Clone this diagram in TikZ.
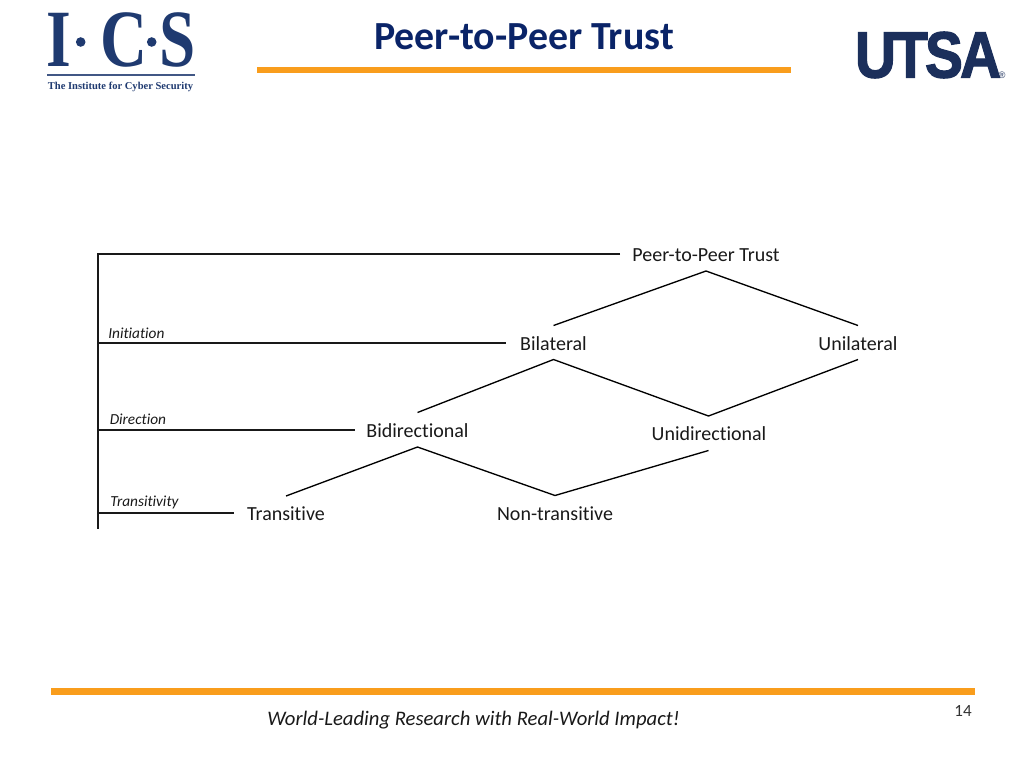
\documentclass[tikz,border=0pt]{standalone}
\usepackage{fontspec}
\setmainfont{Carlito}[Ligatures=NoCommon]
\newfontfamily\logoserif{Liberation Serif}
\newfontfamily\logosans{Liberation Sans}
\definecolor{logoblue}{HTML}{1F3A70}
\definecolor{utsablue}{HTML}{1B2F5B}
\definecolor{titleblue}{HTML}{0A2468}
\definecolor{barorange}{HTML}{F99D1C}
\tikzset{
  lbl/.style={inner sep=0pt,font=\fontsize{15}{18}\selectfont,text=black!90},
  lvl/.style={inner sep=0pt,anchor=west,font=\fontsize{11.5}{13}\selectfont\itshape,text=black!90},
  edge/.style={draw=black,line width=1pt},
  rail/.style={draw=black!90,line width=1.5pt},
  bar/.style={fill=barorange,draw=none},
  logoletter/.style={inner sep=0pt,anchor=base,text=logoblue,font=\fontsize{61}{61}\selectfont\logoserif\bfseries},
}
\begin{document}
\begin{tikzpicture}[x=0.75pt,y=-0.75pt]
\useasboundingbox (0,0) rectangle (1024,768);
% header
\node[inner sep=0pt,text=titleblue,font=\fontsize{29.9}{34}\selectfont\bfseries] (title) at (524,36.5) {Peer-to-Peer Trust};
\fill[bar] (257,67) rectangle (790.5,73);
\fill[bar] (51,688) rectangle (975,695);
% ICS logo
\node[logoletter] (logoI) at (59,66.5) {\scalebox{0.78}[1]{I}};
\node[logoletter] (logoC) at (124,66.5) {\scalebox{0.8}[1]{C}};
\node[logoletter] (logoS) at (177.5,66.5) {\scalebox{0.8}[1]{S}};
\fill[logoblue] (80.7,42) circle (4.8) (151.7,42) circle (4.8);
\fill[logoblue!85] (47,74) rectangle (195,76.3);
\node[inner sep=0pt,text=logoblue,font=\fontsize{7.9}{10}\selectfont\logoserif\bfseries] (logotag) at (120.5,86.5) {The Institute for Cyber Security};
% UTSA logo
\node[inner sep=0pt,text=utsablue,font=\fontsize{49}{50}\selectfont\logosans\bfseries] (utsa) at (928,55) {\scalebox{0.87}[1]{\addfontfeatures{LetterSpace=-5,FakeBold=2}UTSA}};
\node[inner sep=0pt,text=utsablue,font=\fontsize{7}{8}\selectfont\logosans] (reg) at (1002,75.5) {®};
% tree nodes
\node[lbl] (root) at (706,255) {Peer-to-Peer Trust};
\node[lbl] (bil) at (553.5,343.5) {Bilateral};
\node[lbl] (uni) at (858,343.5) {Unilateral};
\node[lbl] (bid) at (417.5,430.5) {Bidirectional};
\node[lbl] (udi) at (709,433.5) {Unidirectional};
\node[lbl] (tra) at (286,513.5) {Transitive};
\node[lbl] (non) at (555,513.5) {Non-transitive};
% level labels
\node[lvl] (linit) at (108,333) {Initiation};
\node[lvl] (ldir) at (109.5,419.5) {Direction};
\node[lvl] (ltra) at (110,502) {Transitivity};
% connector ends
\coordinate (rootb) at (706,271);
\coordinate (bilt) at (553.5,325.5);
\coordinate (unit) at (858,325.5);
\coordinate (bilb) at (553.5,359.5);
\coordinate (unib) at (858,359.5);
\coordinate (bidt) at (417.5,412.5);
\coordinate (udit) at (708.5,416);
\coordinate (bidb) at (417.5,447);
\coordinate (udib) at (708.5,450.5);
\coordinate (trat) at (286,496);
\coordinate (nont) at (555,495.5);
\draw[edge] (bilt) -- (rootb) -- (unit);
\draw[edge] (bidt) -- (bilb) -- (udit) -- (unib);
\draw[edge] (trat) -- (bidb) -- (nont) -- (udib);
% level rails
\coordinate (railtop) at (98,254.2);
\coordinate (railbot) at (98,529);
\coordinate (rail1) at (98,342.7);
\coordinate (rail2) at (98,429.7);
\coordinate (rail3) at (98,512.7);
\coordinate (rootw) at (620,254.2);
\coordinate (bilw) at (506,342.7);
\coordinate (bidw) at (355,429.7);
\coordinate (traw) at (234,512.7);
\draw[rail] (rootw) -- (railtop) -- (railbot);
\draw[rail] (rail1) -- (bilw);
\draw[rail] (rail2) -- (bidw);
\draw[rail] (rail3) -- (traw);
% footer
\node[inner sep=0pt,font=\fontsize{15.5}{18}\selectfont\itshape,text=black!90] (motto) at (473.5,720) {World-Leading Research with Real-World Impact!};
\node[inner sep=0pt,font=\fontsize{12.8}{14}\selectfont,text=black!80] (pageno) at (963,710.5) {14};
\end{tikzpicture}
\end{document}
